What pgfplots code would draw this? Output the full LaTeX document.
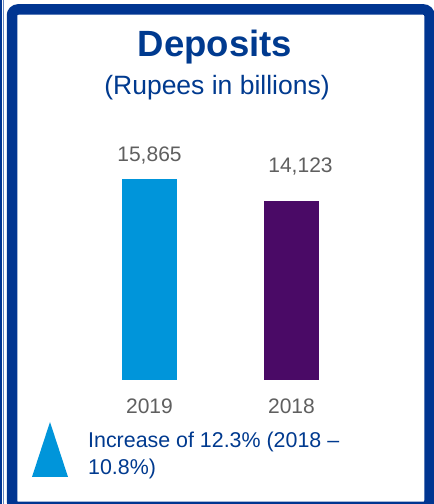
\documentclass[border=0pt]{standalone}
\usepackage{fontspec}
\setmainfont{Liberation Sans}
\usepackage{pgfplots}
\pgfplotsset{compat=1.18}
\definecolor{frameblue}{HTML}{003591}
\definecolor{titleblue}{HTML}{003A8F}
\definecolor{barblue}{HTML}{0095DA}
\definecolor{barpurple}{HTML}{4A0A66}
\definecolor{labgray}{HTML}{5F5F5F}
\begin{document}
\begin{tikzpicture}
\path[use as bounding box] (0,0) rectangle (434bp,504bp);
\begin{scope}
\clip (0,0) rectangle (434bp,504bp);
\fill[white] (0,0) rectangle (434bp,504bp);
\draw[frameblue, line width=10.5bp, rounded corners=6bp] (12bp,494.5bp) rectangle (429.5bp,-3bp);
\draw[frameblue, line width=1.5bp] (0.8bp,0) -- (0.8bp,504bp);
\draw[frameblue!60, line width=0.6bp] (3.3bp,0) -- (3.3bp,504bp);
\end{scope}
\node[anchor=base, inner sep=0pt, text=titleblue, font=\fontsize{36.5bp}{40bp}\selectfont\bfseries] at (215bp,447bp) {Deposits};
\node[anchor=base, inner sep=0pt, text=titleblue, font=\fontsize{26.5bp}{30bp}\selectfont] at (217bp,409bp) {(Rupees in billions)};
\begin{axis}[
  at={(78.5bp,124bp)}, anchor=south west,
  scale only axis, width=284bp, height=201bp,
  xmin=-0.5, xmax=1.5, ymin=0, ymax=15865,
  clip=false,
  axis line style={draw=none},
  xtick={0,1}, xticklabels={2019,2018},
  ytick=\empty,
  major tick length=0pt,
  xticklabel style={anchor=base, yshift=-34bp, text=labgray, font=\fontsize{21bp}{24bp}\selectfont},
  point meta=y,
  /pgf/number format/.cd, 1000 sep={,}, assume math mode=true,
]
\addplot[ybar, bar shift=0pt, bar width=55bp, fill=barblue, draw=none,
  nodes near coords,
  nodes near coords style={anchor=base, yshift=17bp, text=labgray, font=\fontsize{21bp}{24bp}\selectfont}]
  coordinates {(0,15865)};
\addplot[ybar, bar shift=0pt, bar width=55bp, fill=barpurple, draw=none,
  nodes near coords,
  nodes near coords style={anchor=base, yshift=29bp, xshift=9bp, text=labgray, font=\fontsize{21bp}{24bp}\selectfont}]
  coordinates {(1,14123)};
\end{axis}
\fill[barblue] (50bp,82bp) -- (68bp,27bp) -- (32bp,27bp) -- cycle;
\node[anchor=base west, inner sep=0pt, text=titleblue, font=\fontsize{21.4bp}{26bp}\selectfont] at (88bp,56bp) {Increase of 12.3\% (2018 --};
\node[anchor=base west, inner sep=0pt, text=titleblue, font=\fontsize{21.4bp}{26bp}\selectfont] at (88bp,30bp) {10.8\%)};
\end{tikzpicture}
\end{document}
